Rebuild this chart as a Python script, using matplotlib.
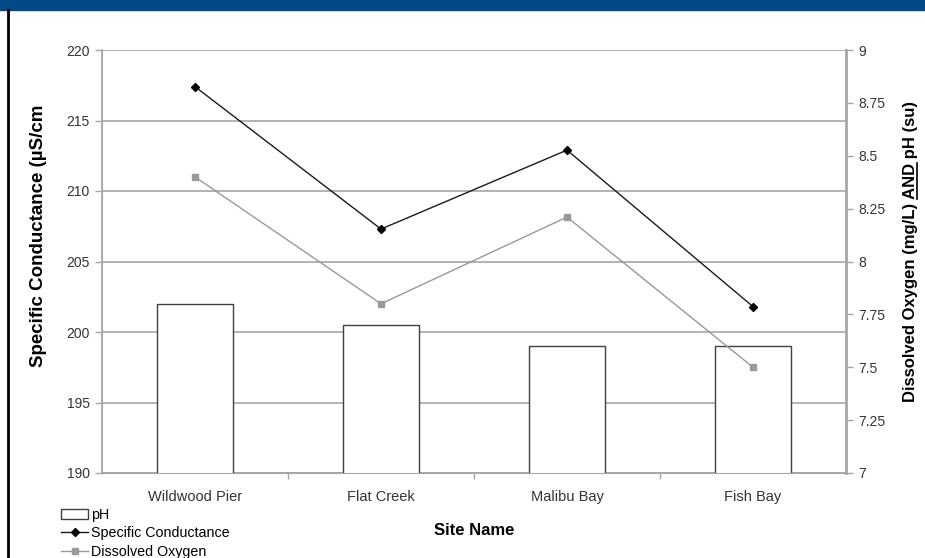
import matplotlib
matplotlib.use("Agg")
import matplotlib.pyplot as plt
from matplotlib.lines import Line2D
from matplotlib.patches import Rectangle

sites = ["Wildwood Pier", "Flat Creek", "Malibu Bay", "Fish Bay"]
ph = [7.8, 7.7, 7.6, 7.6]
spec_cond = [217.4, 207.3, 212.9, 201.8]
diss_oxy = [8.40, 7.80, 8.21, 7.50]

left_ticks = [190, 195, 200, 205, 210, 215, 220]
right_ticks = [7, 7.25, 7.5, 7.75, 8, 8.25, 8.5, 8.75, 9]

plt.rcParams["font.family"] = ["Liberation Sans", "DejaVu Sans"]
GRID = "#a6a6a6"
TXT = "#333333"

fig = plt.figure(figsize=(9.25, 5.58), dpi=100)
W, H = 925, 558

# frame decorations: blue band on top, black rule on the left
fig.patches.append(Rectangle((0, 1 - 10 / H), 1, 10 / H, transform=fig.transFigure,
                             color="#004b87", zorder=0))
fig.lines.append(Line2D([8 / W, 8 / W], [0, 1 - 10 / H], transform=fig.transFigure,
                        color="black", lw=2))

ax = fig.add_axes([102 / W, 1 - 473 / H, 744 / W, 423 / H])
ax2 = ax.twinx()

x = list(range(len(sites)))

# pH bars (right axis), drawn over the left-axis grid
ax2.bar(x, ph, width=0.41, bottom=0, color="white", edgecolor="#404040", lw=1.0, zorder=2)
ax2.plot(x, diss_oxy, color="#999999", lw=1.0, marker="s", ms=5,
         mec="#999999", mfc="#999999", zorder=3)
# specific conductance is on the left scale but must sit over the bars
ax2.plot(x, spec_cond, color="#1a1a1a", lw=1.0, marker="D", ms=4,
         mfc="black", mec="black", zorder=4, transform=ax.transData)

ax.set_xlim(-0.5, 3.5)
ax.set_ylim(190, 220)
ax.set_yticks(left_ticks)
ax2.set_ylim(7, 9)
ax2.set_yticks(right_ticks)
ax2.set_yticklabels([f"{t:g}" for t in right_ticks])

ax.grid(axis="y", color=GRID, lw=1.2)
ax.set_axisbelow(True)

ax.set_xticks(x)
ax.set_xticklabels(sites)
ax.set_xticks([0.5, 1.5, 2.5], minor=True)
ax.tick_params(axis="x", which="major", length=0, pad=12, labelsize=10.5, labelcolor=TXT)
ax.tick_params(axis="x", which="minor", length=4, color=GRID, width=1)
ax.tick_params(axis="y", length=5, color=GRID, width=1, pad=4, labelsize=10, labelcolor=TXT)
ax2.tick_params(axis="y", length=5, color=GRID, width=1, pad=4, labelsize=10, labelcolor=TXT)

for a in (ax, ax2):
    a.spines["top"].set_visible(False)
    for s in ("left", "right", "bottom"):
        a.spines[s].set_color(GRID)
ax.spines["left"].set_linewidth(1.2)
ax2.spines["right"].set_linewidth(2)
ax.spines["bottom"].set_linewidth(1.2)

fig.text(39 / W, 1 - 236 / H, "Specific Conductance (\u00b5S/cm", rotation=90,
         ha="center", va="center", fontweight="bold", fontsize=13.5)
ax.set_xlabel("Site Name", fontweight="bold", fontsize=12, labelpad=14)

# right label with underlined AND
pre = "Dissolved Oxygen (mg/L) "
mid = "AND"
full = pre + mid + " pH (su)"
RFS = 12
lab = fig.text(911 / W, 1 - 252 / H, full, rotation=90, ha="center", va="center",
               fontweight="bold", fontsize=RFS)
fig.canvas.draw()
r = fig.canvas.get_renderer()
bb = lab.get_window_extent(r)
probe = fig.text(0, 0, pre, fontweight="bold", fontsize=RFS)
w_pre = probe.get_window_extent(r).width
probe.set_text(pre + mid)
w_mid = probe.get_window_extent(r).width
probe.remove()
y0 = bb.y0 + w_pre
y1 = bb.y0 + w_mid
ux = bb.x1 - 2
fig.lines.append(Line2D([ux / W, ux / W], [y0 / H, y1 / H], transform=fig.transFigure,
                        color="black", lw=1.2))

handles = [Rectangle((0, 0), 1, 1, facecolor="white", edgecolor="#404040", lw=1),
           Line2D([], [], color="#1a1a1a", lw=1, marker="D", ms=4, mfc="black", mec="black"),
           Line2D([], [], color="#999999", lw=1, marker="s", ms=5, mfc="#999999", mec="#999999")]
fig.legend(handles, ["pH", "Specific Conductance", "Dissolved Oxygen"],
           loc="upper left", bbox_to_anchor=(61 / W, 1 - 508 / H), frameon=False,
           fontsize=10.3, handlelength=1.9, handleheight=0.7, handletextpad=0.2,
           labelspacing=0.3, borderpad=0, borderaxespad=0)

fig.savefig("out.png", dpi=100)
